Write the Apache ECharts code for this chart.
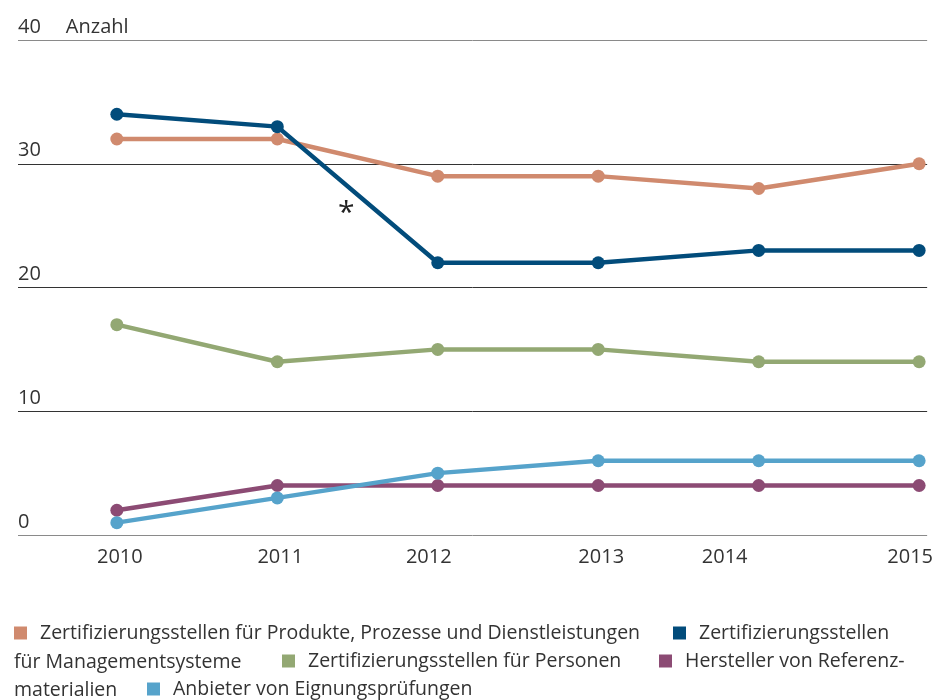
<!DOCTYPE html>
<html>
<head>
<meta charset="utf-8">
<script src="https://cdn.jsdelivr.net/npm/echarts@6/dist/echarts.min.js"></script>
<style>
  html, body { margin: 0; padding: 0; background: #fff; }
  #main { width: 936px; height: 700px; }
</style>
</head>
<body>
<div id="main"></div>
<script>
var years = [2010, 2011, 2012, 2013, 2014, 2015];
var produkte = [32, 32, 29, 29, 28, 30];
var management = [34, 33, 22, 22, 23, 23];
var personen = [17, 14, 15, 15, 14, 14];
var referenz = [2, 4, 4, 4, 4, 4];
var eignung = [1, 3, 5, 6, 6, 6];
var yTicks = [0, 10, 20, 30, 40];

var names = [
    "Zertifizierungsstellen für Produkte, Prozesse und Dienstleistungen",
    "Zertifizierungsstellen für Managementsysteme",
    "Zertifizierungsstellen für Personen",
    "Hersteller von Referenzmaterialien",
    "Anbieter von Eignungsprüfungen"
];
var colorList = ['#d08a6e', '#024c7b', '#93a873', '#8c4b74', '#56a3cb'];
var valueList = [produkte, management, personen, referenz, eignung];

var font = 'Open Sans';
var textColor = '#333';
var axisSize = 20;
var legendSize = 19.5;

function pairs(arr) {
    var out = [];
    for (var i = 0; i < years.length; i++) {
        out.push([years[i], arr[i]]);
    }
    return out;
}

var seriesData = [];
for (var k = 0; k < names.length; k++) {
    seriesData.push({
        name: names[k],
        type: 'line',
        data: pairs(valueList[k]),
        symbol: 'circle',
        symbolSize: 13,
        color: colorList[k],
        lineStyle: { width: 4.5, color: colorList[k] },
        itemStyle: { color: colorList[k] },
        emphasis: { disabled: true },
        z: 3
    });
}

// legend: one component per item, flowing like a paragraph
var legendText = {
    fontFamily: font, fontSize: legendSize, color: textColor, padding: [0, 0, 0, 8]
};
function legendItem(name, left, top, label) {
    return {
        data: [name],
        left: left,
        top: top,
        icon: 'rect',
        itemWidth: 13,
        itemHeight: 13,
        padding: 0,
        selectedMode: false,
        textStyle: legendText,
        formatter: function () { return label; }
    };
}

var option = {
    animation: false,
    backgroundColor: '#fff',
    grid: { left: 18, right: 8, top: 40, bottom: 165 },
    xAxis: {
        type: 'value',
        min: 2009.384,
        max: 2015.05,
        axisLine: { show: false },
        axisTick: { show: false },
        splitLine: { show: false },
        axisLabel: {
            customValues: years,
            margin: 12,
            fontFamily: font,
            fontSize: axisSize,
            color: textColor,
            formatter: function (v) {
                if (v === 2014) return '{l|' + v + '}';
                if (v === 2012 || v === 2015) return '{s|' + v + '}';
                return '{n|' + v + '}';
            },
            rich: {
                n: { fontFamily: font, fontSize: axisSize, color: textColor, padding: [0, 0, 0, 6] },
                s: { fontFamily: font, fontSize: axisSize, color: textColor, padding: [0, 18, 0, 0] },
                l: { fontFamily: font, fontSize: axisSize, color: textColor, padding: [0, 68, 0, 0] }
            }
        }
    },
    yAxis: {
        type: 'value',
        min: 0,
        max: 40,
        interval: 10,
        axisLine: { show: false },
        axisTick: { show: false },
        splitLine: {
            show: true,
            lineStyle: { width: 1, color: ['#8a8a8a', '#333', '#333', '#333', '#8a8a8a'] }
        },
        axisLabel: {
            inside: true,
            margin: 0,
            verticalAlign: 'bottom',
            fontFamily: font,
            fontSize: axisSize,
            color: textColor,
            padding: [0, 0, 3, 0],
            formatter: function (v) {
                if (v === 40) return '40{u|Anzahl}';
                return '' + v;
            },
            rich: {
                u: { fontFamily: font, fontSize: axisSize, color: textColor, padding: [0, 0, 0, 25] }
            }
        }
    },
    legend: [
        legendItem(names[0], 14, 623, names[0]),
        legendItem(names[1], 673, 623, 'Zertifizierungsstellen'),
        legendItem(names[2], 282, 651, names[2]),
        legendItem(names[3], 659, 651, 'Hersteller von Referenz-'),
        legendItem(names[4], 147, 679, names[4])
    ],
    graphic: [
        { type: 'text', left: 14, top: 652, style: { text: 'für Managementsysteme', fontFamily: font, fontSize: legendSize, fill: textColor } },
        { type: 'text', left: 14, top: 680, style: { text: 'materialien', fontFamily: font, fontSize: legendSize, fill: textColor } },
        { type: 'text', left: 338, top: 198, style: { text: '*', fontFamily: font, fontSize: 30, fill: '#222' } }
    ],
    series: seriesData
};

var chart = echarts.init(document.getElementById('main'));
chart.setOption(option);
</script>
</body>
</html>
